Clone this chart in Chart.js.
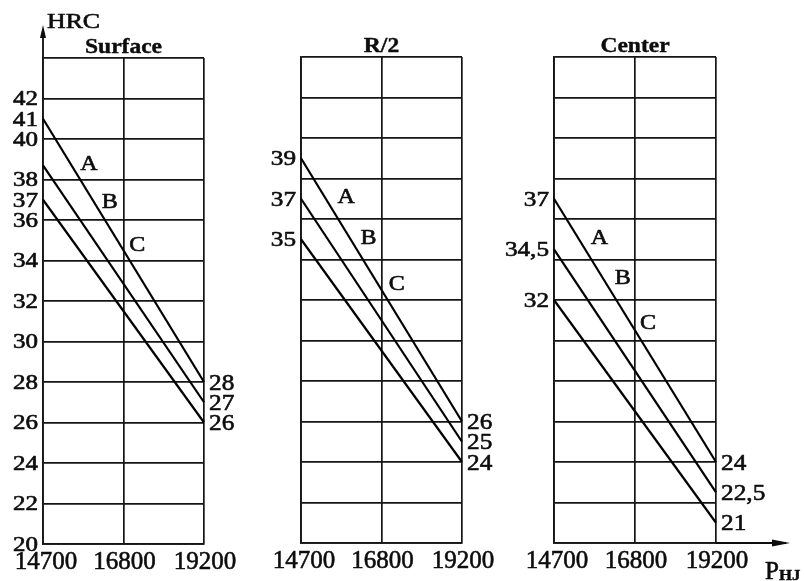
<!DOCTYPE html>
<html>
<head>
<meta charset="utf-8">
<title>HRC vs P_HJ</title>
<script src="https://cdn.jsdelivr.net/npm/chart.js@4.4.1/dist/chart.umd.min.js"></script>
<style>
  html, body { margin: 0; padding: 0; background: #fff; }
  #wrap { position: relative; width: 804px; height: 581px; }
  #wrap canvas { position: absolute; left: 0; top: 0; }
</style>
</head>
<body>
<div id="wrap">
  <canvas id="surface" width="804" height="581"></canvas>
  <canvas id="r2" width="804" height="581"></canvas>
  <canvas id="center" width="804" height="581"></canvas>
</div>
<script>
// Tempering parameter P_HJ on the x axis, hardness HRC on the y axis
const loadLabels = ['14700', '16800', '19200'];
const hrcTicks = [20, 22, 24, 26, 28, 30, 32, 34, 36, 38, 40, 42];
const curveNames = ['A', 'B', 'C'];

// hardness at P = 14700 and at P = 19200, curves A, B, C
const surfaceStart = [41, 38.7, 37];
const surfaceEnd   = [28, 27, 26];
const r2Start      = [39, 37, 35];
const r2End        = [26, 25, 24];
const centerStart  = [37, 34.5, 32];
const centerEnd    = [24, 22.5, 21];

const INK = '#0d0d0d';
const GRID = '#151515';
const SERIF = '"Liberation Serif", "Times New Roman", serif';

// number text with a decimal comma
const fmt = v => String(v).replace('.', ',');

// text drawn with a horizontal stretch; y is the vertical centre of capitals/digits
function drawText(ctx, str, x, y, o) {
  const size = o.size, sx = o.sx || 1;
  ctx.save();
  ctx.font = (o.bold ? 'bold ' : '') + size + 'px ' + SERIF;
  ctx.textAlign = 'left';
  ctx.textBaseline = 'alphabetic';
  const w = ctx.measureText(str).width * sx;
  const x0 = o.align === 'right' ? x - w : o.align === 'center' ? x - w / 2 : x;
  ctx.translate(x0, y + size * 0.33);
  ctx.scale(sx, 1);
  ctx.fillStyle = INK;
  ctx.strokeStyle = INK;
  ctx.lineWidth = o.bold ? 0.4 : 0.6;
  ctx.lineJoin = 'round';
  ctx.fillText(str, 0, 0);
  ctx.strokeText(str, 0, 0);
  ctx.restore();
}

const panelText = {
  id: 'panelText',
  afterDraw(chart, args, opts) {
    const { ctx, chartArea: a, scales: { x, y } } = chart;

    // panel title
    drawText(ctx, opts.title, (a.left + a.right) / 2, a.top - 12,
      { size: 21, bold: true, sx: 1.12, align: 'center' });

    // category labels under the grid columns
    x.ticks.forEach((t, i) => {
      const shift = i === 0 ? 3 : 1;
      drawText(ctx, t.label, x.getPixelForTick(i) + shift, a.bottom + 17,
        { size: 25, sx: 1.0, align: 'center' });
    });

    // hardness tick labels
    (opts.yLabels || []).forEach(v => {
      drawText(ctx, String(v), a.left - 5, y.getPixelForValue(v),
        { size: 20, sx: 1.25, align: 'right' });
    });

    // values at both ends of each curve
    chart.data.datasets.forEach((ds, i) => {
      const s = ds.data[0].y, e = ds.data[ds.data.length - 1].y;
      if (opts.startShown[i]) {
        drawText(ctx, fmt(s), a.left - 5, y.getPixelForValue(s),
          { size: 21, sx: 1.2, align: 'right' });
      }
      drawText(ctx, fmt(e), a.right + 5, y.getPixelForValue(e),
        { size: 23, sx: 1.1, align: 'left' });
    });

    // curve letters
    opts.names.forEach((n, i) => {
      drawText(ctx, curveNames[i], x.getPixelForValue(n[0]), y.getPixelForValue(n[1]),
        { size: 20, sx: 1.2, align: 'center' });
    });

    ctx.save();
    ctx.strokeStyle = INK;
    ctx.fillStyle = INK;
    ctx.lineWidth = 1.8;
    if (opts.yArrow) {
      ctx.beginPath();
      ctx.moveTo(a.left, a.top);
      ctx.lineTo(a.left, 30);
      ctx.stroke();
      ctx.beginPath();
      ctx.moveTo(a.left, 25);
      ctx.lineTo(a.left - 3, 38);
      ctx.lineTo(a.left + 3, 38);
      ctx.closePath();
      ctx.fill();
      drawText(ctx, 'HRC', a.left + 4, 21, { size: 20, sx: 1.29, align: 'left' });
    }
    if (opts.xArrow) {
      ctx.beginPath();
      ctx.moveTo(a.right, a.bottom);
      ctx.lineTo(786, a.bottom);
      ctx.stroke();
      ctx.beginPath();
      ctx.moveTo(790, a.bottom);
      ctx.lineTo(772, a.bottom - 3.5);
      ctx.lineTo(772, a.bottom + 3.5);
      ctx.closePath();
      ctx.fill();
      drawText(ctx, 'P', 765, 571, { size: 25, sx: 1.0, align: 'left' });
      drawText(ctx, 'HJ', 779, 575, { size: 14, bold: true, sx: 1.2, align: 'left' });
    }
    ctx.restore();
  }
};

function makePanel(id, title, starts, ends, padding, extra) {
  const datasets = starts.map((s, i) => ({
    label: curveNames[i],
    data: [{ x: loadLabels[0], y: s }, { x: loadLabels[loadLabels.length - 1], y: ends[i] }],
    borderColor: '#000',
    borderWidth: 2.2,
    pointRadius: 0,
    tension: 0,
    fill: false
  }));
  return new Chart(document.getElementById(id), {
    type: 'line',
    data: { labels: loadLabels, datasets },
    options: {
      responsive: false,
      animation: false,
      devicePixelRatio: 1,
      layout: { padding },
      plugins: {
        legend: { display: false },
        tooltip: { enabled: false },
        panelText: Object.assign({ title }, extra)
      },
      scales: {
        x: {
          type: 'category',
          offset: false,
          grid: { color: GRID, lineWidth: 1.7, drawTicks: false },
          border: { color: GRID, width: 1.8 },
          ticks: { display: false },
          afterFit(s) { s.height = 0; }
        },
        y: {
          min: 20,
          max: 44,
          grid: { color: GRID, lineWidth: 1.7, drawTicks: false },
          border: { color: GRID, width: 1.8 },
          ticks: { stepSize: 2, display: false },
          afterFit(s) { s.width = 0; }
        }
      }
    },
    plugins: [panelText]
  });
}

makePanel('surface', 'Surface', surfaceStart, surfaceEnd,
  { left: 43, right: 600, top: 58, bottom: 37 },
  {
    yLabels: hrcTicks,
    startShown: [true, false, true],
    names: [[0.57, 38.8], [0.83, 36.9], [1.17, 34.8]],
    yArrow: true
  });

makePanel('r2', 'R/2', r2Start, r2End,
  { left: 301, right: 342, top: 57, bottom: 38 },
  {
    startShown: [true, true, true],
    names: [[0.56, 37.1], [0.84, 35.1], [1.19, 32.8]]
  });

makePanel('center', 'Center', centerStart, centerEnd,
  { left: 554, right: 88, top: 57, bottom: 38 },
  {
    startShown: [true, true, true],
    names: [[0.56, 35.1], [0.85, 33.1], [1.16, 30.9]],
    xArrow: true
  });
</script>
</body>
</html>
